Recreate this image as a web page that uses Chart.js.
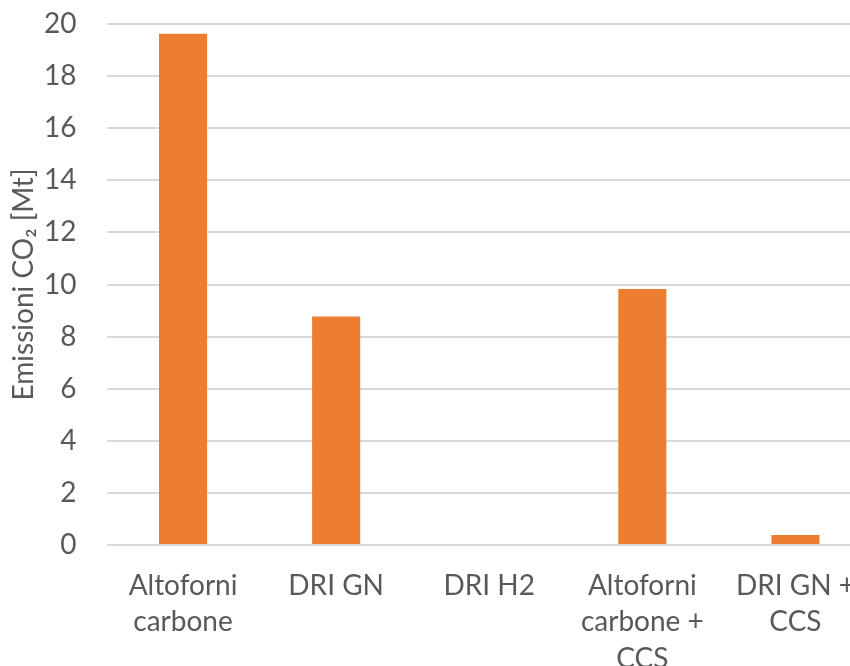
<!DOCTYPE html>
<html>
<head>
<meta charset="utf-8">
<script src="https://cdn.jsdelivr.net/npm/chart.js@4/dist/chart.umd.min.js"></script>
<style>
  html, body { margin: 0; padding: 0; background: #fff; overflow: hidden; }
  #wrap { width: 872px; height: 666px; }
</style>
</head>
<body>
<div id="wrap"><canvas id="c" width="872" height="666"></canvas></div>
<script>
// Emissions by steelmaking route
const categories = [
  ["Altoforni", "carbone"],
  ["DRI GN"],
  ["DRI H2"],
  ["Altoforni", "carbone +", "CCS"],
  ["DRI GN +", "CCS"]
];
const emissions = [19.63, 8.77, 0, 9.83, 0.38];
const yTicks = [0, 2, 4, 6, 8, 10, 12, 14, 16, 18, 20];
const yTitle = "Emissioni CO\u2082 [Mt]";

const FONT = "Lato, 'Open Sans', sans-serif";
const GREY = "#595959";

new Chart(document.getElementById("c"), {
  type: "bar",
  data: {
    labels: categories,
    datasets: [{
      data: emissions,
      backgroundColor: "#ED7D31",
      borderWidth: 0,
      categoryPercentage: 1,
      barPercentage: 0.314
    }]
  },
  options: {
    responsive: false,
    animation: false,
    layout: { padding: { top: 24, right: 0, bottom: 0, left: 0 } },
    plugins: { legend: { display: false }, tooltip: { enabled: false } },
    scales: {
      x: {
        grid: { display: false },
        border: { display: false },
        ticks: {
          color: GREY,
          font: { family: FONT, size: 28, lineHeight: 1.32 },
          maxRotation: 0,
          autoSkip: false,
          padding: 14
        },
        afterFit(scale) { scale.height = 121; scale.paddingLeft = 0; scale.paddingRight = 0; }
      },
      y: {
        min: 0,
        max: 20,
        afterBuildTicks(scale) { scale.ticks = yTicks.map(v => ({ value: v })); },
        grid: { color: "#d9d9d9", lineWidth: 2, drawTicks: false },
        border: { display: false },
        ticks: {
          color: GREY,
          font: { family: FONT, size: 28 },
          padding: 30
        },
        title: {
          display: true,
          text: yTitle,
          color: GREY,
          font: { family: FONT, size: 28 },
          padding: { top: 7, bottom: 0 }
        },
        afterFit(scale) { scale.width = 106.5; scale.paddingTop = 0; scale.paddingBottom = 0; }
      }
    }
  }
});
</script>
</body>
</html>
